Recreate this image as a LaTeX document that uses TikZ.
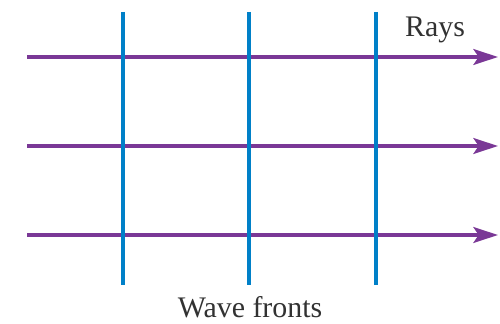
\documentclass[tikz,border=0pt]{standalone}
\usepackage{fontspec}
\setmainfont{Liberation Serif}
\usetikzlibrary{arrows.meta}
\definecolor{raypurple}{RGB}{122,56,150}
\definecolor{frontblue}{RGB}{0,128,200}
\definecolor{labelgray}{RGB}{50,50,50}
\tikzset{
  ray/.style={raypurple, line width=1.9pt, -{Stealth[length=14pt, width=9pt, inset=3pt]}},
  front/.style={frontblue, line width=2.3pt},
  lbl/.style={labelgray, font=\fontsize{17}{20}\selectfont, inner sep=0pt}
}
\begin{document}
\begin{tikzpicture}[x=0.02cm, y=-0.02cm]
    \useasboundingbox (0, 0) rectangle (500, 324);

    % 光线
    \foreach \i/\y in {1/57, 2/146, 3/235} {
        \coordinate (rs\i) at (27, \y);
        \coordinate (re\i) at (498, \y);
        \draw[ray] (rs\i) -- (re\i);
    }

    % 波前 (竖线, 画在光线上面)
    \foreach \i/\x in {1/123, 2/249, 3/376} {
        \coordinate (ft\i) at (\x, 12);
        \coordinate (fb\i) at (\x, 285);
        \draw[front] (ft\i) -- (fb\i);
    }

    % 标注
    \node[lbl, anchor=base] (rays) at (435, 37) {Rays};
    \node[lbl, anchor=base] (fronts) at (250, 317) {Wave fronts};
\end{tikzpicture}
\end{document}
